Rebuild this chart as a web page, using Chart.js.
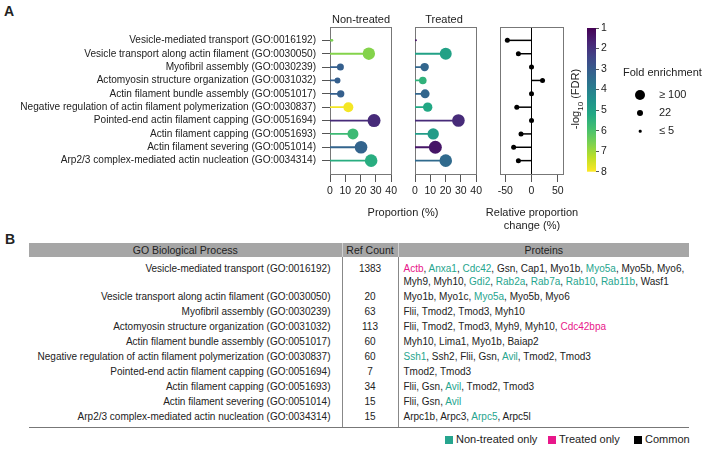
<!DOCTYPE html>
<html lang="en">
<head>
<meta charset="UTF-8">
<title>GO enrichment</title>
<script src="https://cdn.jsdelivr.net/npm/chart.js"></script>
<style>
  body { margin:0; width:709px; height:449px; position:relative; background:#fff; overflow:hidden;
         font-family:"Liberation Sans", Arial, sans-serif; color:#222; }
  canvas { position:absolute; top:0; }
  .txt { position:absolute; white-space:nowrap; font-size:11px; line-height:13px; transform:translate(-50%,-50%); }
  .panel { position:absolute; font-weight:bold; font-size:14px; }
  .fe { position:absolute; font-size:11px; white-space:nowrap; }
  .dot { position:absolute; background:#000; border-radius:50%; transform:translate(-50%,-50%); }
  #tbl { position:absolute; left:29px; top:243px; width:660px; }
  #tbl table { border-collapse:collapse; table-layout:fixed; width:660px; font-size:10px; }
  #tbl th { background:#a6a6a6; font-weight:normal; height:14px; padding:0; line-height:14px; font-size:10.5px; }
  #tbl th + th { border-left:1px solid #d0d0d0; }
  #tbl td { line-height:12.8px; padding:1.1px 0; vertical-align:top; }
  #tbl td.go { text-align:right; padding-right:11px; }
  #tbl td.ref { text-align:center; border-left:1px solid #888; }
  #tbl td.prot { padding-left:5px; border-left:1px solid #888; }
  #tbl tr.first td { padding-top:6px; }
  #tbl tr.last td { padding-bottom:4px; border-bottom:1px solid #777; }
  .n { color:#26a58e; } .t { color:#e8178a; }
  .lg { position:absolute; top:433px; font-size:11px; white-space:nowrap; }
  .lg i { display:inline-block; width:8px; height:8px; margin-right:3px; vertical-align:-1px; }
</style>
</head>
<body>
<div class="panel" style="left:4px;top:3px">A</div>
<div class="panel" style="left:5px;top:231px">B</div>

<canvas id="nt" width="400" height="210" style="left:0"></canvas>
<canvas id="tr" width="80" height="210" style="left:405px"></canvas>
<canvas id="rel" width="80" height="210" style="left:490px"></canvas>
<canvas id="cb" width="60" height="180" style="left:560px"></canvas>

<div class="txt" style="left:361px;top:19px">Non-treated</div>
<div class="txt" style="left:444px;top:19px">Treated</div>
<div class="txt" style="left:403px;top:212px">Proportion (%)</div>
<div class="txt" style="left:532px;top:212px">Relative proportion</div>
<div class="txt" style="left:532px;top:225px">change (%)</div>
<div class="txt" style="left:578px;top:99px;transform:translate(-50%,-50%) rotate(-90deg)">-log<sub style="font-size:8px">10</sub> (FDR)</div>

<div class="fe" style="left:623px;top:66px">Fold enrichment</div>
<div id="feLegend"></div>

<div id="tbl"></div>
<div class="lg" style="left:445px"><i style="background:#26a58e"></i>Non-treated only</div>
<div class="lg" style="left:548px"><i style="background:#e8178a"></i>Treated only</div>
<div class="lg" style="left:634px"><i style="background:#000"></i>Common</div>

<script>
const goTerms = [
  "Vesicle-mediated transport (GO:0016192)",
  "Vesicle transport along actin filament (GO:0030050)",
  "Myofibril assembly (GO:0030239)",
  "Actomyosin structure organization (GO:0031032)",
  "Actin filament bundle assembly (GO:0051017)",
  "Negative regulation of actin filament polymerization (GO:0030837)",
  "Pointed-end actin filament capping (GO:0051694)",
  "Actin filament capping (GO:0051693)",
  "Actin filament severing (GO:0051014)",
  "Arp2/3 complex-mediated actin nucleation (GO:0034314)"
];
const ntProportion = [1.3, 25.4, 6.8, 4.9, 7.0, 12.0, 28.8, 15.0, 20.3, 26.9];
const tProportion  = [0.6, 20.1, 6.3, 5.1, 6.6, 8.3, 28.4, 11.9, 13.3, 20.1];
const ntFold = [4, 91, 29, 21, 32, 59, 100, 72, 94, 94];
const tFold  = [2.4, 85, 42, 34, 48, 52, 94, 77, 100, 94];
const ntLogFdr = [6.6, 6.7, 3.1, 3.1, 3.1, 7.9, 1.85, 5.75, 3.25, 5.35];
const tLogFdr  = [1.35, 5.0, 3.3, 5.5, 3.3, 5.2, 1.85, 4.85, 1.4, 3.4];
const relChange = [-46, -25, 0, 21, 0, -28, 0, -20, -34, -25];
const proportionTicks = [0, 10, 20, 30, 40];
const changeTicks = [-50, 0, 50];
const fdrTicks = [1, 2, 3, 4, 5, 6, 7, 8];
const foldLegend = [["\u2265 100", 5], ["22", 3], ["\u2264 5", 1.3]];
const refCounts = [1383, 20, 63, 113, 60, 60, 7, 34, 15, 15];
// n = non-treated only, t = treated only, no tag = common
const proteins = [
  ["Actb:t","Anxa1:n","Cdc42:n","Gsn","Cap1","Myo1b","Myo5a:n","Myo5b","Myo6","Myh9","Myh10","Gdi2:n","Rab2a:n","Rab7a:n","Rab10:n","Rab11b:n","Wasf1"],
  ["Myo1b","Myo1c","Myo5a:n","Myo5b","Myo6"],
  ["Flii","Tmod2","Tmod3","Myh10"],
  ["Flii","Tmod2","Tmod3","Myh9","Myh10","Cdc42bpa:t"],
  ["Myh10","Lima1","Myo1b","Baiap2"],
  ["Ssh1:n","Ssh2","Flii","Gsn","Avil:n","Tmod2","Tmod3"],
  ["Tmod2","Tmod3"],
  ["Flii","Gsn","Avil:n","Tmod2","Tmod3"],
  ["Flii","Gsn","Avil:n"],
  ["Arpc1b","Arpc3","Arpc5:n","Arpc5l"]
];

const viridisStops = ["#440154","#482475","#414487","#355f8d","#2a788e","#21918c","#22a884","#44bf70","#7ad151","#bddf26","#fde725"];
function hex(c){ return [1,3,5].map(i => parseInt(c.substr(i,2),16)); }
function viridis(t){
  t = Math.max(0, Math.min(1, t));
  const p = t * (viridisStops.length - 1), i = Math.min(Math.floor(p), viridisStops.length - 2), f = p - i;
  const a = hex(viridisStops[i]), b = hex(viridisStops[i+1]);
  return "rgb(" + a.map((v,k) => Math.round(v + (b[k]-v)*f)).join(",") + ")";
}
const fdrColor = v => viridis((v - 1) / 7);
const radius = fe => 0.65 * Math.sqrt(Math.min(fe, 100));

const font = { family: "'Liberation Sans', Arial, sans-serif", size: 10.5 };
const labelFont = { family: "'Liberation Sans', Arial, sans-serif", size: 10.1 };
const rows = goTerms.map((_, i) => i + 1);

const framePlugin = {
  id: "frame",
  beforeDatasetsDraw(chart) {
    const a = chart.chartArea, c = chart.ctx;
    c.save(); c.strokeStyle = "#777"; c.lineWidth = 1;
    c.strokeRect(Math.round(a.left) + 0.5, Math.round(a.top) + 0.5, Math.round(a.right - a.left), Math.round(a.bottom - a.top));
    c.restore();
  }
};

function lollipop(id, values, colors, radii, xTicks, xMin, xMax, opt) {
  const datasets = values.map((v, i) => ({
    type: "scatter", showLine: true, pointRadius: 0,
    borderColor: colors[i], borderWidth: opt.stem,
    data: [{ x: 0, y: i + 1 }, { x: v, y: i + 1 }]
  }));
  datasets.push({
    type: "bubble", borderWidth: 0, backgroundColor: colors,
    data: values.map((v, i) => ({ x: v, y: i + 1, r: radii[i] }))
  });
  return new Chart(document.getElementById(id), {
    type: "scatter",
    data: { datasets },
    plugins: [framePlugin],
    options: {
      responsive: false, animation: false,
      layout: { padding: { top: 27, right: 7, left: opt.left, bottom: 0 } },
      plugins: { legend: { display: false }, tooltip: { enabled: false } },
      scales: {
        x: {
          min: xMin, max: xMax,
          afterBuildTicks: s => { s.ticks = xTicks.map(v => ({ value: v })); },
          afterFit: s => { s.height = 36; },
          ticks: { font, color: "#222", padding: 3, maxRotation: 0 },
          border: { display: false },
          grid: {
            drawOnChartArea: opt.zeroLine, tickLength: 8, tickColor: "#555",
            color: ctx => (ctx.tick && ctx.tick.value === 0 ? "#000" : "rgba(0,0,0,0)")
          }
        },
        y: {
          min: 0, max: 11, reverse: true, display: opt.labels,
          afterBuildTicks: s => { s.ticks = rows.map(v => ({ value: v })); },
          afterFit: s => { if (opt.labels) s.width = 330; },
          ticks: { font: labelFont, color: "#222", padding: 6, autoSkip: false, callback: v => goTerms[v - 1] },
          border: { display: false },
          grid: { drawOnChartArea: false, tickLength: 8, tickColor: "#555" }
        }
      }
    }
  });
}

lollipop("nt", ntProportion, ntLogFdr.map(fdrColor), ntFold.map(radius), proportionTicks, 0, 40,
  { left: 0, labels: true, stem: 1.8, zeroLine: false });
lollipop("tr", tProportion, tLogFdr.map(fdrColor), tFold.map(radius), proportionTicks, 0, 40,
  { left: 10, labels: false, stem: 1.8, zeroLine: false });
lollipop("rel", relChange, relChange.map(() => "#000"), relChange.map(() => 2.5), changeTicks, -60, 60,
  { left: 10, labels: false, stem: 1.5, zeroLine: true });

// colour bar for -log10(FDR)
new Chart(document.getElementById("cb"), {
  type: "scatter",
  data: { datasets: [] },
  plugins: [{
    id: "gradient",
    beforeDatasetsDraw(chart) {
      const a = chart.chartArea, c = chart.ctx;
      const g = c.createLinearGradient(0, a.top, 0, a.bottom);
      viridisStops.forEach((s, i) => g.addColorStop(i / (viridisStops.length - 1), s));
      c.save(); c.fillStyle = g; c.fillRect(a.left, a.top, a.right - a.left, a.bottom - a.top); c.restore();
    }
  }],
  options: {
    responsive: false, animation: false,
    layout: { padding: { top: 28, left: 27, right: 0, bottom: 6 } },
    plugins: { legend: { display: false }, tooltip: { enabled: false } },
    scales: {
      x: { display: false, min: 0, max: 1 },
      y: {
        position: "right", min: 1, max: 8, reverse: true,
        afterBuildTicks: s => { s.ticks = fdrTicks.map(v => ({ value: v })); },
        afterFit: s => { s.width = 24; },
        ticks: { font, color: "#222", padding: 2 },
        border: { display: false },
        grid: { drawOnChartArea: false, tickLength: 3, tickColor: "#555" }
      }
    }
  }
});

// fold enrichment legend
const feBox = document.getElementById("feLegend");
foldLegend.forEach(([label, r], i) => {
  const y = 95 + i * 18;
  feBox.insertAdjacentHTML("beforeend",
    `<div class="dot" style="left:640px;top:${y}px;width:${2*r}px;height:${2*r}px"></div>` +
    `<div class="fe" style="left:659px;top:${y - 7}px">${label}</div>`);
});

// table B
let html = '<table><colgroup><col style="width:313px"><col style="width:56px"><col style="width:291px"></colgroup>' +
  '<tr><th>GO Biological Process</th><th>Ref Count</th><th>Proteins</th></tr>';
goTerms.forEach((term, i) => {
  const cls = i === 0 ? "first" : (i === goTerms.length - 1 ? "last" : "");
  const prot = proteins[i].map(p => {
    const [name, tag] = p.split(":");
    return tag ? `<span class="${tag}">${name}</span>` : name;
  }).join(", ");
  html += `<tr class="${cls}"><td class="go">${term}</td><td class="ref">${refCounts[i]}</td><td class="prot">${prot}</td></tr>`;
});
html += "</table>";
document.getElementById("tbl").innerHTML = html;
</script>
</body>
</html>
